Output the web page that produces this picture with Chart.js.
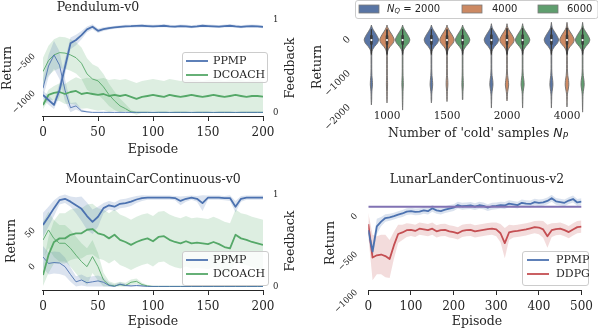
<!DOCTYPE html>
<html>
<head>
<meta charset="utf-8">
<script src="https://cdn.jsdelivr.net/npm/chart.js@4.4.0/dist/chart.umd.min.js"></script>
<style>
  html, body { margin: 0; padding: 0; background: #fff; }
  #wrap { position: relative; width: 598px; height: 331px; overflow: hidden; }
  #wrap canvas { position: absolute; left: 0; top: 0; }
</style>
</head>
<body>
<div id="wrap">
  <canvas id="pendulum" width="598" height="331"></canvas>
  <canvas id="violins" width="598" height="331"></canvas>
  <canvas id="mountaincar" width="598" height="331"></canvas>
  <canvas id="lunarlander" width="598" height="331"></canvas>
</div>
<script>
// ---------- data ----------
const episodes200 = [0, 5, 10, 15, 20, 25, 30, 35, 40, 45, 50, 55, 60, 65, 70, 75, 80, 85, 90, 95, 100,
  105, 110, 115, 120, 125, 130, 135, 140, 145, 150, 155, 160, 165, 170, 175, 180, 185, 190, 195, 200];
const episodes500 = [0, 10, 20, 30, 40, 50, 60, 70, 80, 90, 100, 110, 120, 130, 140, 150, 160, 170, 180, 190, 200,
  210, 220, 230, 240, 250, 260, 270, 280, 290, 300, 310, 320, 330, 340, 350, 360, 370, 380, 390, 400,
  410, 420, 430, 440, 450, 460, 470, 480, 490, 500];

// Pendulum-v0
const pendPpmpReturn = [-1040, -1108, -1175, -972, -662, -342, -297, -230, -153, -118, -172, -149, -135, -126, -118,
  -112, -110, -106, -104, -108, -112, -108, -104, -112, -116, -108, -112, -118, -112, -104, -108, -112, -116,
  -108, -104, -112, -118, -112, -108, -112, -118];
const pendPpmpReturnSd = [55, 65, 55, 95, 110, 80, 70, 55, 40, 35, 30, 25, 22, 20, 20, 20, 20, 20, 20, 20, 20,
  20, 20, 20, 20, 20, 20, 20, 20, 20, 20, 20, 20, 20, 20, 20, 20, 20, 20, 20, 20];
const pendPpmpFeedback = [0.26, 0.50, 0.62, 0.51, 0.24, 0.05, 0.07, 0.015, 0.005, 0, 0, 0, 0, 0, 0, 0, 0, 0, 0, 0, 0,
  0, 0, 0, 0, 0, 0, 0, 0, 0, 0, 0, 0, 0, 0, 0, 0, 0, 0, 0, 0];
const pendPpmpFeedbackSd = [0.10, 0.12, 0.15, 0.15, 0.12, 0.05, 0.04, 0.02, 0.01, 0, 0, 0, 0, 0, 0, 0, 0, 0, 0, 0, 0,
  0, 0, 0, 0, 0, 0, 0, 0, 0, 0, 0, 0, 0, 0, 0, 0, 0, 0, 0, 0];
const pendDcoachReturn = [-1175, -1040, -1013, -1000, -1027, -1000, -986, -1027, -1013, -1027, -1040, -1027, -1054,
  -1040, -1054, -1040, -1067, -1094, -1067, -1054, -1040, -1054, -1067, -1040, -1054, -1067, -1054, -1040, -1054,
  -1067, -1054, -1040, -1054, -1067, -1054, -1040, -1054, -1067, -1054, -1054, -1063];
const pendDcoachReturnSd = [55, 70, 95, 120, 135, 160, 185, 200, 205, 210, 215, 215, 215, 215, 215, 215, 215, 215,
  215, 215, 215, 215, 215, 215, 215, 215, 215, 215, 215, 215, 215, 215, 215, 215, 215, 215, 215, 215, 215, 215, 215];
const pendDcoachFeedback = [0.44, 0.56, 0.62, 0.645, 0.64, 0.62, 0.59, 0.53, 0.415, 0.36, 0.34, 0.275, 0.19, 0.125,
  0.07, 0.04, 0.005, 0, 0, 0, 0, 0, 0, 0, 0, 0, 0, 0, 0, 0, 0, 0, 0, 0, 0, 0, 0, 0, 0, 0, 0];
const pendDcoachFeedbackSd = [0.15, 0.16, 0.17, 0.17, 0.17, 0.17, 0.17, 0.17, 0.17, 0.16, 0.15, 0.14, 0.12, 0.10,
  0.08, 0.05, 0.02, 0, 0, 0, 0, 0, 0, 0, 0, 0, 0, 0, 0, 0, 0, 0, 0, 0, 0, 0, 0, 0, 0, 0, 0];

// MountainCarContinuous-v0
const mcPpmpReturn = [55.6, 67, 79, 90, 92, 88, 83, 78, 68, 60, 67, 79, 83, 81, 85, 86, 88, 91, 93, 93.5,
  93.5, 93.5, 93.5, 93.5, 93, 89, 92, 93.5, 92, 86, 93.5, 93.5, 93.5, 93, 93, 81, 92, 93.5, 93.5, 93.5, 93.5];
const mcPpmpReturnSd = [17, 14, 11, 6, 6, 7, 11, 17, 19, 17, 14, 7, 6, 6, 6, 6, 6, 5, 4, 3,
  3, 3, 3, 3, 3, 6, 4, 3, 4, 11, 3, 3, 3, 3, 4, 8, 4, 3, 3, 3, 3];
const mcPpmpFeedback = [0.32, 0.25, 0.26, 0.255, 0.215, 0.13, 0.05, 0.07, 0.04, 0.05, 0.06, 0.045, 0.01, 0, 0.025,
  0.01, 0.005, 0.01, 0.005, 0, 0, 0, 0, 0, 0, 0, 0, 0, 0, 0, 0, 0, 0, 0, 0, 0, 0, 0, 0, 0, 0];
const mcPpmpFeedbackSd = [0.12, 0.12, 0.12, 0.12, 0.10, 0.08, 0.06, 0.06, 0.06, 0.06, 0.06, 0.05, 0.03, 0.02, 0.02,
  0.02, 0.01, 0.01, 0.01, 0, 0, 0, 0, 0, 0, 0, 0, 0, 0, 0, 0, 0, 0, 0, 0, 0, 0, 0, 0, 0, 0];
const mcDcoachReturn = [-14, 14, 32, 37, 37, 42, 44, 44, 49, 50, 44, 42, 37, 42, 35, 32, 28, 32, 35, 37,
  33, 39, 40, 35, 32, 30, 33, 30, 31, 30, 29, 32, 29, 25, 23, 42, 37, 35, 32, 30, 28];
const mcDcoachReturnSd = [15, 25, 30, 35, 35, 35, 35, 35, 35, 35, 35, 35, 35, 35, 35, 35, 35, 35, 35, 35,
  35, 35, 35, 35, 35, 35, 35, 35, 35, 35, 35, 35, 35, 35, 35, 35, 35, 35, 35, 35, 35];
const mcDcoachFeedback = [0.505, 0.615, 0.52, 0.47, 0.47, 0.415, 0.34, 0.27, 0.215, 0.325, 0.215, 0.07, 0.015,
  0.005, 0.02, 0.01, 0.045, 0.055, 0.02, 0.005, 0, 0, 0, 0, 0, 0, 0, 0, 0, 0, 0, 0, 0, 0, 0, 0, 0, 0, 0, 0, 0];
const mcDcoachFeedbackSd = [0.2, 0.2, 0.2, 0.2, 0.2, 0.2, 0.2, 0.2, 0.2, 0.18, 0.15, 0.08, 0.04, 0.03, 0.03, 0.03,
  0.03, 0.03, 0.02, 0.01, 0, 0, 0, 0, 0, 0, 0, 0, 0, 0, 0, 0, 0, 0, 0, 0, 0, 0, 0, 0, 0];

// LunarLanderContinuous-v2
const llPpmp = [-200, -480, -150, -88, -40, -30, -15, 5, 20, 45, 50, 40, 45, 60, 50, 88, 60, 50, 70, 85, 96,
  130, 115, 120, 125, 110, 128, 120, 96, 115, 120, 130, 125, 150, 140, 130, 160, 150, 145, 170, 160,
  165, 185, 220, 180, 170, 160, 190, 210, 165, 175];
const llPpmpSd = [120, 90, 100, 60, 50, 45, 45, 45, 45, 45, 45, 45, 45, 45, 45, 45, 45, 45, 45, 45, 45,
  45, 45, 45, 45, 45, 45, 45, 45, 45, 45, 45, 45, 45, 45, 45, 45, 45, 45, 45, 45,
  45, 45, 45, 45, 45, 45, 45, 45, 45, 45];
const llDdpg = [-120, -560, -530, -520, -540, -580, -400, -250, -230, -200, -195, -210, -180, -190, -200, -180,
  -215, -200, -195, -215, -225, -241, -210, -200, -195, -215, -205, -195, -185, -180, -190, -240, -370, -230,
  -215, -210, -200, -190, -175, -160, -165, -190, -280, -200, -185, -180, -200, -225, -190, -160, -153];
const llDdpgSd = [150, 300, 250, 260, 280, 250, 180, 120, 100, 90, 80, 80, 80, 80, 80, 80, 80, 80, 80, 80,
  80, 80, 80, 80, 80, 80, 80, 80, 80, 80, 90, 120, 200, 100, 80, 80, 80, 80, 80, 80, 90, 110, 150, 90,
  80, 80, 80, 80, 80, 80, 80];
const llReference = 110;

// violins: 'cold' samples groups x N_Q hues
const violinGroups = ['1000', '1500', '2000', '4000'];
const violinHues = ['2000', '4000', '6000'];
const headLevels = [300, 200, 100, 0, -60, -150, -250, -350, -450];
const headWidths = [0.12, 0.38, 0.68, 0.93, 1.0, 0.85, 0.45, 0.15, 0.06];
const tailLevels = [-650, -900, -1100, -1250, -1380, -1500, -1650, -1800];
// one entry per violin: group by group, hues inside each group
const violinTop = [380, 380, 380, 380, 380, 380, 420, 420, 420, 460, 460, 460];
const violinEnd = [-1970, -1910, -2120, -1910, -1870, -1820, -2060, -1850, -2060, -2060, -2030, -2180];
const violinTail = [
  [0.05, 0.05, 0.07, 0.13, 0.15, 0.09, 0.05, 0.04],
  [0.05, 0.05, 0.05, 0.07, 0.08, 0.06, 0.04, 0.03],
  [0.05, 0.05, 0.06, 0.09, 0.10, 0.07, 0.05, 0.04],
  [0.05, 0.05, 0.08, 0.15, 0.18, 0.12, 0.05, 0.04],
  [0.05, 0.05, 0.06, 0.11, 0.12, 0.08, 0.04, 0.03],
  [0.05, 0.05, 0.06, 0.09, 0.10, 0.07, 0.04, 0.03],
  [0.05, 0.05, 0.09, 0.19, 0.22, 0.15, 0.06, 0.04],
  [0.05, 0.05, 0.09, 0.18, 0.23, 0.15, 0.06, 0.04],
  [0.05, 0.05, 0.09, 0.18, 0.21, 0.13, 0.05, 0.04],
  [0.05, 0.05, 0.09, 0.18, 0.21, 0.15, 0.06, 0.04],
  [0.05, 0.06, 0.11, 0.22, 0.25, 0.18, 0.06, 0.04],
  [0.05, 0.05, 0.09, 0.19, 0.22, 0.15, 0.06, 0.04]
];
const boxHi = [250, 250, 250, 250, 250, 250, 280, 280, 280, 300, 300, 300];
const boxQ3 = [60, 60, 60, 60, 60, 60, 70, 70, 70, 70, 70, 70];
const boxMed = [-60, -60, -60, -60, -60, -60, -60, -60, -60, -60, -60, -60];
const boxQ1 = [-170, -170, -170, -170, -170, -170, -170, -170, -170, -170, -170, -170];
const boxLo = [-480, -480, -480, -480, -480, -480, -480, -480, -480, -480, -480, -480];

// ---------- style ----------
const INK = '#262626';
const BLUE = '#4C72B0', GREEN = '#55A868', RED = '#C44E52', PURPLE = '#8172B3';
const BLUE_BAND = 'rgba(76,114,176,0.2)', GREEN_BAND = 'rgba(85,168,104,0.2)', RED_BAND = 'rgba(196,78,82,0.2)';
const HUE_COLORS = ['#5975a4', '#cc8963', '#5f9e6e'];
const HUE_OFFSETS = [-0.26, 0, 0.26];
const VIOLIN_HALF = 0.12;
const SERIF = '"DejaVu Serif"';
const SANS = '"DejaVu Sans"';

Chart.defaults.font.family = 'DejaVu Serif';
Chart.defaults.color = INK;

const fmt = v => String(v).replace('-', '\u2212');
const pts = (xs, ys) => xs.map((x, i) => ({x: x, y: ys[i]}));

function line(xs, ys, color, width, axis, order) {
  return {data: pts(xs, ys), borderColor: color, borderWidth: width, yAxisID: axis,
    order: order, fill: false, pointRadius: 0, tension: 0};
}

function band(xs, mean, sd, color, axis, lo, hi) {
  const up = mean.map((m, i) => hi == null ? m + sd[i] : Math.min(hi, m + sd[i]));
  const dn = mean.map((m, i) => lo == null ? m - sd[i] : Math.max(lo, m - sd[i]));
  return [
    {data: pts(xs, up), borderWidth: 0, pointRadius: 0, fill: false, yAxisID: axis, order: 10},
    {data: pts(xs, dn), borderWidth: 0, pointRadius: 0, fill: '-1', backgroundColor: color, yAxisID: axis, order: 10}
  ];
}

function episodeAxis(max, step) {
  return {
    type: 'linear', min: 0, max: max,
    afterFit: s => { s.height = 30; },
    ticks: {stepSize: step, color: INK, font: {size: 12}, padding: 5, maxRotation: 0, callback: fmt},
    grid: {display: true, drawOnChartArea: false, drawTicks: true, tickLength: 4, color: INK, lineWidth: 1},
    border: {display: true, color: INK, width: 1.1}
  };
}

function valueAxis(o) {
  return {
    type: 'linear', position: o.position || 'left', min: o.min, max: o.max,
    afterBuildTicks: s => { s.ticks = o.ticks.map(v => ({value: v})); },
    afterFit: s => { s.width = 40; },
    grid: {display: false, drawTicks: false},
    border: {display: false},
    ticks: {color: INK, font: {size: o.size || 8.5}, padding: o.pad,
      minRotation: o.rot || 0, maxRotation: o.rot || 0, autoSkip: false, callback: fmt}
  };
}

function baseOptions(padding, scales) {
  return {
    responsive: false, animation: false, devicePixelRatio: 1, events: [],
    layout: {padding: padding, autoPadding: false},
    plugins: {legend: {display: false}, title: {display: false}, tooltip: {enabled: false}},
    elements: {point: {radius: 0}, line: {borderJoinStyle: 'round', capBezierPoints: false}},
    scales: scales
  };
}

// ---------- text, titles and legends ----------
function drawRich(ctx, t) {
  const parts = t.parts || [{text: t.text, font: t.font || ('12.5px ' + SERIF)}];
  ctx.save();
  ctx.translate(t.x, t.y);
  if (t.rot) ctx.rotate(t.rot * Math.PI / 180);
  ctx.textBaseline = 'middle';
  ctx.textAlign = 'left';
  let w = 0;
  parts.forEach(p => { ctx.font = p.font; w += ctx.measureText(p.text).width; });
  let x = t.align === 'left' ? 0 : -w / 2;
  parts.forEach(p => {
    ctx.font = p.font;
    ctx.fillText(p.text, x, p.dy || 0);
    x += ctx.measureText(p.text).width;
  });
  ctx.restore();
}

function roundBox(ctx, x, y, w, h, r) {
  ctx.beginPath();
  ctx.moveTo(x + r, y);
  ctx.arcTo(x + w, y, x + w, y + h, r);
  ctx.arcTo(x + w, y + h, x, y + h, r);
  ctx.arcTo(x, y + h, x, y, r);
  ctx.arcTo(x, y, x + w, y, r);
  ctx.closePath();
}

function drawLegend(ctx, lg) {
  const [x, y, w, h] = lg.box;
  ctx.save();
  roundBox(ctx, x + 0.5, y + 0.5, w, h, 2.5);
  ctx.fillStyle = 'rgba(255,255,255,0.8)';
  ctx.fill();
  ctx.strokeStyle = '#cccccc';
  ctx.lineWidth = 1;
  ctx.stroke();
  lg.items.forEach(it => {
    if (it.patch) {
      ctx.fillStyle = it.color;
      ctx.fillRect(it.x, it.y - 4, 20, 8);
      ctx.strokeStyle = '#7a7a7a';
      ctx.lineWidth = 0.8;
      ctx.strokeRect(it.x, it.y - 4, 20, 8);
    } else {
      ctx.strokeStyle = it.color;
      ctx.lineWidth = it.width;
      ctx.beginPath();
      ctx.moveTo(it.x, it.y);
      ctx.lineTo(it.x + 22, it.y);
      ctx.stroke();
    }
    ctx.fillStyle = INK;
    drawRich(ctx, {x: it.tx, y: it.y, align: 'left',
      parts: it.parts || [{text: it.label, font: '11px ' + SERIF}]});
  });
  ctx.restore();
}

function makeDecor(spec) {
  return {
    id: 'decor',
    afterDraw(chart) {
      const ctx = chart.ctx;
      ctx.save();
      ctx.fillStyle = INK;
      spec.texts.forEach(t => drawRich(ctx, t));
      if (spec.legend) drawLegend(ctx, spec.legend);
      ctx.restore();
    }
  };
}

// ---------- Pendulum-v0 ----------
new Chart(document.getElementById('pendulum'), {
  type: 'line',
  data: {
    datasets: [
      ...band(episodes200, pendPpmpReturn, pendPpmpReturnSd, BLUE_BAND, 'y'),
      ...band(episodes200, pendDcoachReturn, pendDcoachReturnSd, GREEN_BAND, 'y'),
      ...band(episodes200, pendPpmpFeedback, pendPpmpFeedbackSd, BLUE_BAND, 'y1', 0, 1),
      ...band(episodes200, pendDcoachFeedback, pendDcoachFeedbackSd, GREEN_BAND, 'y1', 0, 1),
      line(episodes200, pendPpmpFeedback, BLUE, 0.9, 'y1', 2),
      line(episodes200, pendDcoachFeedback, GREEN, 0.9, 'y1', 2),
      line(episodes200, pendDcoachReturn, GREEN, 1.8, 'y', 1),
      line(episodes200, pendPpmpReturn, BLUE, 1.8, 'y', 0)
    ]
  },
  options: baseOptions({left: 3, right: 295, top: 15, bottom: 184}, {
    x: episodeAxis(200, 50),
    y: valueAxis({min: -1338, max: 40, ticks: [-1000, -500], pad: 9, rot: 45}),
    y1: valueAxis({position: 'right', min: -0.05, max: 1.05, ticks: [0, 1], pad: 10})
  }),
  plugins: [makeDecor({
    texts: [
      {text: 'Pendulum-v0', x: 98, y: 8},
      {text: 'Return', x: 7.5, y: 68, rot: -90},
      {text: 'Feedback', x: 291, y: 68, rot: -90},
      {text: 'Episode', x: 153, y: 150}
    ],
    legend: {box: [182, 52, 85, 30], items: [
      {label: 'PPMP', color: BLUE, width: 1.8, x: 186, tx: 213, y: 61},
      {label: 'DCOACH', color: GREEN, width: 1.8, x: 186, tx: 213, y: 75}
    ]}
  })]
});

// ---------- violins ----------
const violinSets = [];
const whiskerPts = [], boxPts = [], medianPts = [];
violinGroups.forEach((g, gi) => violinHues.forEach((h, hi) => {
  const k = gi * violinHues.length + hi;
  const c = gi + HUE_OFFSETS[hi];
  const lv = [violinTop[k]].concat(headLevels, tailLevels, [violinEnd[k]]);
  const wd = [0].concat(headWidths, violinTail[k], [0]);
  const poly = [];
  for (let i = 0; i < lv.length; i++) poly.push({x: c + wd[i] * VIOLIN_HALF, y: lv[i]});
  for (let i = lv.length - 2; i >= 0; i--) poly.push({x: c - wd[i] * VIOLIN_HALF, y: lv[i]});
  violinSets.push({data: poly, fill: 'shape', backgroundColor: HUE_COLORS[hi], borderColor: '#6e6e6e',
    borderWidth: 0.9, pointRadius: 0, tension: 0.3, clip: false, order: 5});
  whiskerPts.push({x: c, y: boxHi[k]}, {x: c, y: boxLo[k]}, {x: c, y: null});
  boxPts.push({x: c, y: boxQ3[k]}, {x: c, y: boxQ1[k]}, {x: c, y: null});
  medianPts.push({x: c, y: boxMed[k]});
}));

new Chart(document.getElementById('violins'), {
  type: 'line',
  data: {
    datasets: [
      ...violinSets,
      {data: whiskerPts, borderColor: '#3a3a3a', borderWidth: 1, pointRadius: 0, spanGaps: false, clip: false, order: 3},
      {data: boxPts, borderColor: '#3a3a3a', borderWidth: 2.6, pointRadius: 0, spanGaps: false, clip: false, order: 2},
      {data: medianPts, showLine: false, pointRadius: 1.1, pointBackgroundColor: '#ffffff', pointBorderWidth: 0, clip: false, order: 1}
    ]
  },
  options: baseOptions({left: 317, right: 1, top: 20, bottom: 193}, {
    x: {
      type: 'linear', min: -0.5, max: 3.5,
      afterBuildTicks: s => { s.ticks = violinGroups.map((g, i) => ({value: i})); },
      afterFit: s => { s.height = 30; },
      grid: {display: false, drawTicks: false},
      border: {display: false},
      ticks: {color: INK, font: {size: 10.5}, padding: 2.3, maxRotation: 0, autoSkip: false,
        callback: v => violinGroups[v]}
    },
    y: valueAxis({min: -2059, max: 529, ticks: [-2000, -1000, 0], pad: 8, rot: 45, size: 9.5})
  }),
  plugins: [makeDecor({
    texts: [
      {text: 'Return', x: 318, y: 67, rot: -90},
      {x: 478, y: 134, parts: [
        {text: "Number of 'cold' samples ", font: '12.5px ' + SERIF},
        {text: 'N', font: 'italic 12.5px ' + SANS},
        {text: 'P', font: 'italic 8.7px ' + SANS, dy: 3}
      ]}
    ],
    legend: {box: [355, 0, 242.5, 18], items: [
      {patch: true, color: HUE_COLORS[0], x: 359, tx: 387, y: 9, parts: [
        {text: 'N', font: 'italic 10px ' + SANS},
        {text: 'Q', font: 'italic 7px ' + SANS, dy: 2.5},
        {text: ' = ' + violinHues[0], font: '10px ' + SANS}
      ]},
      {patch: true, color: HUE_COLORS[1], x: 462, tx: 492, y: 9, parts: [{text: violinHues[1], font: '10px ' + SANS}]},
      {patch: true, color: HUE_COLORS[2], x: 538, tx: 567, y: 9, parts: [{text: violinHues[2], font: '10px ' + SANS}]}
    ]}
  })]
});

// ---------- MountainCarContinuous-v0 ----------
new Chart(document.getElementById('mountaincar'), {
  type: 'line',
  data: {
    datasets: [
      ...band(episodes200, mcPpmpReturn, mcPpmpReturnSd, BLUE_BAND, 'y'),
      ...band(episodes200, mcDcoachReturn, mcDcoachReturnSd, GREEN_BAND, 'y'),
      ...band(episodes200, mcPpmpFeedback, mcPpmpFeedbackSd, BLUE_BAND, 'y1', 0, 1),
      ...band(episodes200, mcDcoachFeedback, mcDcoachFeedbackSd, GREEN_BAND, 'y1', 0, 1),
      line(episodes200, mcPpmpFeedback, BLUE, 0.9, 'y1', 2),
      line(episodes200, mcDcoachFeedback, GREEN, 0.9, 'y1', 2),
      line(episodes200, mcDcoachReturn, GREEN, 1.8, 'y', 1),
      line(episodes200, mcPpmpReturn, BLUE, 1.8, 'y', 0)
    ]
  },
  options: baseOptions({left: 3, right: 295, top: 190, bottom: 10}, {
    x: episodeAxis(200, 50),
    y: valueAxis({min: -36.1, max: 104.2, ticks: [0, 50], pad: 9, rot: 45}),
    y1: valueAxis({position: 'right', min: -0.05, max: 1.05, ticks: [0, 1], pad: 10})
  }),
  plugins: [makeDecor({
    texts: [
      {text: 'MountainCarContinuous-v0', x: 153, y: 180},
      {text: 'Return', x: 12, y: 241, rot: -90},
      {text: 'Feedback', x: 291, y: 241, rot: -90},
      {text: 'Episode', x: 153, y: 322}
    ],
    legend: {box: [182, 251, 86, 34], items: [
      {label: 'PPMP', color: BLUE, width: 1.8, x: 186, tx: 213, y: 260},
      {label: 'DCOACH', color: GREEN, width: 1.8, x: 186, tx: 213, y: 274}
    ]}
  })]
});

// ---------- LunarLanderContinuous-v2 ----------
new Chart(document.getElementById('lunarlander'), {
  type: 'line',
  data: {
    datasets: [
      ...band(episodes500, llPpmp, llPpmpSd, BLUE_BAND, 'y'),
      ...band(episodes500, llDdpg, llDdpgSd, RED_BAND, 'y'),
      line(episodes500, llDdpg, RED, 1.8, 'y', 2),
      line(episodes500, llPpmp, BLUE, 1.8, 'y', 1),
      line([episodes500[0], episodes500[episodes500.length - 1]], [llReference, llReference], PURPLE, 2, 'y', 0)
    ]
  },
  options: baseOptions({left: 328.3, right: 11.3, top: 195, bottom: 10}, {
    x: episodeAxis(500, 100),
    y: valueAxis({min: -1000, max: 263, ticks: [-1000, -500, 0], pad: 12, rot: 45})
  }),
  plugins: [makeDecor({
    texts: [
      {text: 'LunarLanderContinuous-v2', x: 477, y: 180},
      {text: 'Return', x: 331, y: 243, rot: -90},
      {text: 'Episode', x: 477, y: 322}
    ],
    legend: {box: [522, 251, 66, 34], items: [
      {label: 'PPMP', color: BLUE, width: 1.8, x: 527, tx: 556, y: 260},
      {label: 'DDPG', color: RED, width: 1.8, x: 527, tx: 556, y: 274}
    ]}
  })]
});
</script>
</body>
</html>
